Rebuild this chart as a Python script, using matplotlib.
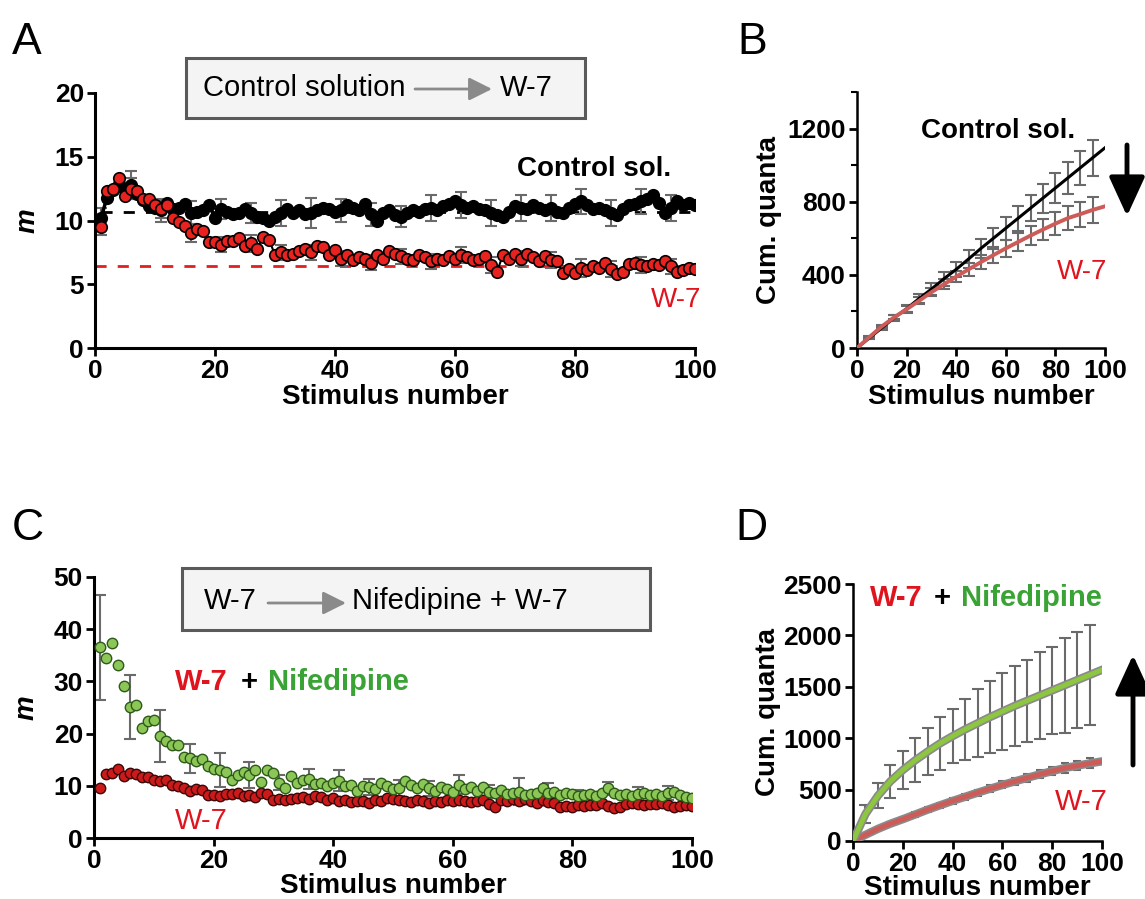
import numpy as np
import matplotlib
matplotlib.use("Agg")
import matplotlib.pyplot as plt
import matplotlib.patheffects as pe
from matplotlib.patches import Rectangle

plt.rcParams['font.family'] = ['Liberation Sans', 'DejaVu Sans']

# ---------------- data ----------------
stim = list(range(1, 101))

ctrl_m = [10.2, 11.8, 12.4, 12.9, 12.4, 12.8, 12.1, 11.6, 11.1, 11.0,
          10.8, 11.4, 10.9, 11.0, 11.3, 10.6, 10.7, 10.8, 11.2, 10.2,
          10.9, 10.7, 10.5, 10.6, 10.9, 10.6, 10.3, 10.2, 10.0, 10.3,
          10.6, 10.9, 10.6, 10.8, 10.5, 10.6, 10.8, 11.0, 10.9, 10.7,
          10.8, 11.2, 11.0, 10.8, 11.3, 10.5, 10.0, 10.6, 10.8, 10.4,
          10.3, 10.6, 10.8, 10.7, 10.9, 11.0, 10.8, 11.1, 11.3, 11.5,
          11.2, 11.0, 11.1, 10.9, 10.8, 10.6, 10.4, 10.3, 10.7, 11.1,
          11.0, 10.9, 11.2, 11.0, 10.8, 11.0, 10.7, 10.6, 11.0, 11.3,
          11.5, 11.2, 10.9, 11.0, 10.8, 10.6, 10.4, 10.9, 11.2, 11.3,
          11.5, 11.7, 12.0, 11.4, 10.6, 11.0, 11.5, 11.2, 11.4, 11.2]

w7_m = [9.5, 12.3, 12.5, 13.3, 11.9, 12.5, 12.3, 11.7, 11.7, 11.2,
        10.9, 11.2, 10.2, 9.9, 9.6, 9.0, 9.3, 9.2, 8.3, 8.3,
        8.1, 8.4, 8.4, 8.6, 8.0, 8.2, 7.8, 8.7, 8.5, 7.3,
        7.5, 7.3, 7.4, 7.6, 7.8, 7.5, 8.0, 7.9, 7.3, 7.7,
        7.0, 7.3, 6.9, 7.1, 7.0, 6.7, 7.3, 7.0, 7.6, 7.4,
        7.2, 7.0, 6.9, 7.3, 7.1, 6.8, 7.0, 6.9, 7.2, 7.0,
        7.3, 7.1, 6.9, 7.0, 7.2, 6.5, 6.0, 7.3, 7.0, 7.4,
        7.0, 7.4, 7.1, 6.8, 7.2, 6.9, 6.8, 5.9, 6.2, 5.9,
        6.3, 6.1, 6.4, 6.3, 6.7, 6.2, 5.8, 6.0, 6.6, 6.7,
        6.5, 6.4, 6.6, 6.5, 6.8, 6.4, 6.0, 6.1, 6.3, 6.2]

nif_m = [36.5, 34.4, 37.3, 33.1, 29.1, 25.1, 25.4, 21.1, 22.4, 22.7,
         19.5, 18.5, 17.9, 17.9, 15.5, 15.3, 14.7, 15.1, 13.8, 13.2,
         13.0, 12.6, 11.2, 12.1, 12.7, 12.1, 13.1, 10.8, 13.1, 12.5,
         10.6, 9.5, 11.9, 10.5, 11.2, 11.3, 10.4, 10.5, 9.9, 10.5,
         11.0, 9.9, 10.2, 9.0, 9.9, 9.8, 9.4, 10.6, 9.9, 9.3,
         9.6, 10.9, 10.2, 9.6, 10.4, 9.5, 9.0, 9.8, 9.3, 8.9,
         10.2, 9.4, 9.7, 9.0, 9.8, 8.9, 8.6, 9.1, 8.4, 8.7,
         8.9, 8.2, 8.5, 8.7, 9.6, 8.6, 8.8, 8.3, 8.6, 8.5,
         8.0, 8.3, 8.4, 8.1, 8.6, 9.5, 8.7, 8.2, 8.4, 8.0,
         8.5, 8.6, 8.2, 8.4, 8.1, 8.6, 8.9, 8.3, 7.9, 7.6]

err_stim = [1, 6, 11, 16, 21, 26, 31, 36, 41, 46, 51, 56, 61, 66, 71, 76, 81, 86, 91, 96]
ctrl_err = [0.8, 1.1, 0.9, 0.9, 0.8, 0.8, 1.0, 1.2, 0.9, 0.9,
            0.8, 1.0, 1.0, 1.0, 1.0, 1.0, 1.0, 1.0, 1.0, 1.0]
w7_err = [0.6, 0.8, 0.7, 0.7, 0.6, 0.7, 0.6, 0.6, 0.6, 0.6,
          0.6, 0.6, 0.6, 0.6, 0.6, 0.6, 0.7, 0.6, 0.6, 0.6]
nif_err = [10.0, 6.2, 5.0, 2.8, 3.3, 2.5, 1.5, 2.0, 2.0, 1.5,
           1.5, 1.5, 1.8, 1.3, 2.5, 2.0, 1.2, 1.3, 1.2, 1.3]

ctrl_plateau = 10.65
w7_plateau = 6.45

cum_stim = [0, 5, 10, 15, 20, 25, 30, 35, 40, 45, 50, 55, 60, 65, 70, 75, 80, 85, 90, 95, 100]
ctrl_cum = [0, 55, 110, 165, 215, 270, 322, 378, 430, 487, 545, 600, 655, 710, 765,
            820, 875, 930, 985, 1040, 1095]
w7_cum = [0, 60, 118, 168, 212, 258, 305, 348, 390, 430, 470, 508, 545, 580, 615,
          648, 680, 710, 732, 755, 775]
nif_cum = [0, 262, 440, 580, 690, 785, 870, 950, 1020, 1085, 1145, 1205, 1260, 1315,
           1365, 1415, 1465, 1515, 1565, 1615, 1665]

cum_err_stim = [5, 10, 15, 20, 25, 30, 35, 40, 45, 50, 55, 60, 65, 70, 75, 80, 85, 90, 95]
ctrl_cum_err = [5, 10, 16, 21, 26, 31, 37, 42, 47, 52, 58, 63, 68, 73, 79, 84, 89, 94, 100]
w7_cum_err = [4, 8, 12, 15, 19, 23, 27, 31, 35, 38, 42, 46, 50, 54, 58, 62, 65, 69, 73]
nif_cum_err = [90, 120, 160, 185, 215, 230, 260, 265, 300, 330, 350, 370, 390, 400,
               420, 425, 460, 470, 490]
w7_cum_err_d = [10, 12, 15, 18, 20, 22, 24, 26, 28, 30, 32, 34, 36, 38, 40, 42, 44, 46, 48]

# ---------------- styling ----------------
W, H = 1145, 899
fig = plt.figure(figsize=(W / 100, H / 100), dpi=100)

RED_TXT = '#e0141e'
GREEN_TXT = '#3aa335'
ERR_C = '#6a6a6a'
TICK_FS = 19
LAB_FS = 20


def axes_px(l, t, r, b):
    return fig.add_axes([l / W, (H - b) / H, (r - l) / W, (b - t) / H])


def style(ax):
    for s in ['top', 'right']:
        ax.spines[s].set_visible(False)
    for s in ['left', 'bottom']:
        ax.spines[s].set_linewidth(2.2)
    ax.tick_params(axis='both', which='major', direction='out', length=6, width=2,
                   labelsize=TICK_FS, pad=2)
    ax.tick_params(axis='both', which='minor', direction='out', length=4, width=1.5)
    for lab in ax.get_xticklabels() + ax.get_yticklabels():
        lab.set_fontweight('bold')


def ftext(x, y, s, **kw):
    fig.text(x / W, (H - y) / H, s, **kw)


def farrow(x0, y0, x1, y1, color, lw, hw, hl):
    fig.patches.append(matplotlib.patches.FancyArrowPatch(
        (x0 / W, (H - y0) / H), (x1 / W, (H - y1) / H), transform=fig.transFigure,
        arrowstyle=f'-|>,head_width={hw},head_length={hl}', color=color, lw=lw,
        mutation_scale=1, shrinkA=0, shrinkB=0))


def fbox(l, t, r, b):
    fig.patches.append(Rectangle((l / W, (H - b) / H), (r - l) / W, (b - t) / H,
                                 transform=fig.transFigure, facecolor='#f4f4f4',
                                 edgecolor='#5a5a5a', lw=2.2))


XT = [0, 20, 40, 60, 80, 100]

# ---------------- Panel A ----------------
axA = axes_px(95, 93, 695, 348)
axA.set_xlim(0, 100)
axA.set_ylim(0, 20)
axA.set_xticks(XT)
axA.set_yticks([0, 5, 10, 15, 20])
style(axA)
axA.plot([1, 100], [ctrl_plateau, ctrl_plateau], ls=(0, (4, 4)), color='black', lw=2, zorder=1)
axA.plot([0, 100], [w7_plateau, w7_plateau], ls=(0, (4, 4)), color='#e02020', lw=2, zorder=1)
ctrl_at = [ctrl_m[s - 1] for s in err_stim]
w7_at = [w7_m[s - 1] for s in err_stim]
axA.errorbar(err_stim, ctrl_at, yerr=ctrl_err, fmt='none', ecolor=ERR_C, elinewidth=1.5,
             capsize=4, capthick=1.5, zorder=2)
axA.errorbar(err_stim, w7_at, yerr=w7_err, fmt='none', ecolor=ERR_C, elinewidth=1.5,
             capsize=4, capthick=1.5, zorder=2)
axA.plot(stim, ctrl_m, '-o', color='black', lw=2.5, ms=8.5, mfc='black', mec='black', zorder=3)
axA.plot(stim, w7_m, '-o', color='black', lw=1.5, ms=8.3, mfc='#e8231f', mec='black',
         mew=1.2, zorder=4)
axA.set_xlabel('Stimulus number', fontsize=LAB_FS, fontweight='bold', labelpad=1)
axA.set_ylabel('m', fontsize=LAB_FS, fontstyle='italic', fontweight='bold', labelpad=10)
axA.text(0.96, 0.70, 'Control sol.', transform=axA.transAxes, fontsize=LAB_FS,
         fontweight='bold', ha='right', va='center')
axA.text(1.01, 0.19, 'W-7', transform=axA.transAxes, fontsize=LAB_FS,
         color=RED_TXT, ha='right', va='center')

fbox(186, 58, 585, 118)
ftext(203, 88, 'Control solution', fontsize=21, va='center', ha='left')
farrow(415, 89, 492, 89, '#8a8a8a', 2, 7, 14)
ftext(500, 88, 'W-7', fontsize=21, va='center', ha='left')

# ---------------- Panel B ----------------
axB = axes_px(857, 92, 1105, 348)
axB.set_xlim(0, 100)
axB.set_ylim(0, 1400)
axB.set_xticks(XT)
axB.set_yticks([0, 400, 800, 1200])
axB.set_yticks([200, 600, 1000, 1400], minor=True)
style(axB)
axB.spines['left'].set_linewidth(1.8)
axB.spines['bottom'].set_linewidth(1.8)
ctrl_cum_at = [ctrl_cum[cum_stim.index(s)] for s in cum_err_stim]
w7_cum_at = [w7_cum[cum_stim.index(s)] for s in cum_err_stim]
axB.errorbar(cum_err_stim, ctrl_cum_at, yerr=ctrl_cum_err, fmt='none', ecolor=ERR_C,
             elinewidth=1.5, capsize=4, capthick=1.5, zorder=2)
axB.errorbar(cum_err_stim, w7_cum_at, yerr=w7_cum_err, fmt='none', ecolor=ERR_C,
             elinewidth=1.5, capsize=4, capthick=1.5, zorder=2)
axB.plot(cum_stim, ctrl_cum, color='black', lw=2.2, zorder=3)
axB.plot(cum_stim, w7_cum, color='#cd5b58', lw=2.8, zorder=4)
axB.set_xlabel('Stimulus number', fontsize=LAB_FS, fontweight='bold', labelpad=1)
axB.set_ylabel('Cum. quanta', fontsize=LAB_FS, fontweight='bold', labelpad=4)
ftext(921, 131, 'Control sol.', fontsize=LAB_FS, fontweight='bold', va='center', ha='left')
ftext(1057, 272, 'W-7', fontsize=LAB_FS, color=RED_TXT, va='center', ha='left')
farrow(1127, 145, 1127, 216, 'black', 3.5, 11, 24)

# ---------------- Panel C ----------------
axC = axes_px(94, 577, 692, 838)
axC.set_xlim(0, 100)
axC.set_ylim(0, 50)
axC.set_xticks(XT)
axC.set_yticks([0, 10, 20, 30, 40, 50])
style(axC)
nif_at = [nif_m[s - 1] for s in err_stim]
axC.errorbar(err_stim, nif_at, yerr=nif_err, fmt='none', ecolor=ERR_C, elinewidth=1.5,
             capsize=4, capthick=1.5, zorder=2)
axC.plot(stim, w7_m, 'o', ms=7.5, mfc='#cc1a1a', mec='#3a0808', mew=1.0, zorder=3)
axC.plot(stim, nif_m, 'o', ms=7.5, mfc='#8cc657', mec='#2d5a1a', mew=1.0, zorder=4)
axC.set_xlabel('Stimulus number', fontsize=LAB_FS, fontweight='bold', labelpad=0)
axC.set_ylabel('m', fontsize=LAB_FS, fontstyle='italic', fontweight='bold', labelpad=10)
ftext(175, 682, 'W-7', fontsize=21, fontweight='bold', color=RED_TXT, va='center', ha='left')
ftext(241, 682, '+', fontsize=21, fontweight='bold', color='black', va='center', ha='left')
ftext(268, 682, 'Nifedipine', fontsize=21, fontweight='bold', color=GREEN_TXT, va='center', ha='left')
ftext(175, 821, 'W-7', fontsize=21, color=RED_TXT, va='center', ha='left')

fbox(182, 568, 650, 630)
ftext(204, 601, 'W-7', fontsize=21, va='center', ha='left')
farrow(268, 603, 346, 603, '#8a8a8a', 2, 7, 14)
ftext(352, 601, 'Nifedipine + W-7', fontsize=21, va='center', ha='left')

# ---------------- Panel D ----------------
axD = axes_px(853, 584, 1102, 841)
axD.set_xlim(0, 100)
axD.set_ylim(0, 2500)
axD.set_xticks(XT)
axD.set_yticks([0, 500, 1000, 1500, 2000, 2500])
style(axD)
axD.spines['left'].set_linewidth(1.8)
axD.spines['bottom'].set_linewidth(1.8)
nif_cum_at = [nif_cum[cum_stim.index(s)] for s in cum_err_stim]
axD.errorbar(cum_err_stim, nif_cum_at, yerr=nif_cum_err, fmt='none', ecolor=ERR_C,
             elinewidth=1.5, capsize=4, capthick=1.5, zorder=2)
axD.errorbar(cum_err_stim, w7_cum_at, yerr=w7_cum_err_d, fmt='none', ecolor=ERR_C,
             elinewidth=1.5, capsize=3, capthick=1.5, zorder=2)
shadow = [pe.Stroke(linewidth=6, foreground='#8a8a8a'), pe.Normal()]
axD.plot(cum_stim, nif_cum, color='#8dc63f', lw=3.5, zorder=4, path_effects=shadow)
axD.plot(cum_stim, w7_cum, color='#cd5b58', lw=3.5, zorder=3, path_effects=shadow)
axD.set_xlabel('Stimulus number', fontsize=LAB_FS, fontweight='bold', labelpad=-1)
axD.set_ylabel('Cum. quanta', fontsize=LAB_FS, fontweight='bold', labelpad=2)
ftext(870, 598, 'W-7', fontsize=21, fontweight='bold', color=RED_TXT, va='center', ha='left')
ftext(934, 598, '+', fontsize=21, fontweight='bold', color='black', va='center', ha='left')
ftext(961, 598, 'Nifedipine', fontsize=21, fontweight='bold', color=GREEN_TXT, va='center', ha='left')
ftext(1055, 802, 'W-7', fontsize=21, color=RED_TXT, va='center', ha='left')
farrow(1133, 765, 1133, 655, 'black', 3.5, 11, 24)

# ---------------- Panel letters ----------------
ftext(12, 42, 'A', fontsize=32, va='center', ha='left')
ftext(737, 42, 'B', fontsize=32, va='center', ha='left')
ftext(12, 528, 'C', fontsize=32, va='center', ha='left')
ftext(735, 528, 'D', fontsize=32, va='center', ha='left')

fig.savefig('out.png', dpi=100)
